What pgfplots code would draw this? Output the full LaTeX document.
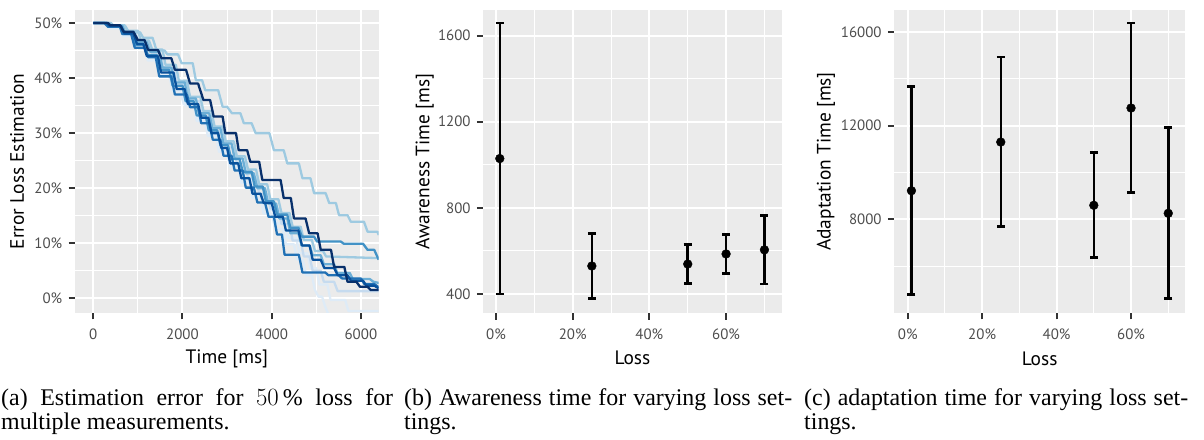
\documentclass[border=0pt]{standalone}
\usepackage{pgfplots}
\pgfplotsset{compat=1.18}
\usepackage{pgfplotstable}
\usepackage{fontspec}
\setmainfont{Liberation Serif}
\newfontfamily\plotfont{PT Sans}
\newfontfamily\capfont{Liberation Serif}
\definecolor{ggbg}{HTML}{EBEBEB}
\definecolor{ggtick}{HTML}{333333}
\definecolor{ggtext}{HTML}{4D4D4D}
\definecolor{b2}{HTML}{DEEBF7}
\definecolor{b3}{HTML}{C6DBEF}
\definecolor{b4}{HTML}{9ECAE1}
\definecolor{b5}{HTML}{6BAED6}
\definecolor{b6}{HTML}{4292C6}
\definecolor{b7}{HTML}{2171B5}
\definecolor{b8}{HTML}{08519C}
\definecolor{b9}{HTML}{08306B}
\newcommand{\labfont}{\plotfont\fontsize{19.5}{22}\selectfont}
\tikzset{ln/.style={line width=2.3bp, line join=round}}
\pgfplotsset{ggstyle/.style={
  scale only axis,
  anchor=south west,
  axis background/.style={fill=ggbg},
  separate axis lines,
  axis line style={draw=none},
  xtick pos=left, ytick pos=left,
  tick align=outside,
  major tick length=6.5bp,
  minor tick length=0pt,
  every tick/.style={ggtick, line width=2bp},
  xmajorgrids, ymajorgrids, xminorgrids, yminorgrids,
  major grid style={white, line width=2bp},
  minor grid style={white, line width=1bp},
  scaled x ticks=false, scaled y ticks=false,
  tick label style={font=\plotfont\fontsize{15}{17}\selectfont, text=ggtext},
  xticklabel style={anchor=north, inner sep=0pt, yshift=-9bp},
  yticklabel style={anchor=east, inner sep=0pt, xshift=-6bp},
}}
\begin{document}
\begin{tikzpicture}
\path[use as bounding box] (0,0) rectangle (1204bp,440bp);
% ---------------- (a)
\begin{axis}[ggstyle, at={(75bp,127bp)}, width=303.7bp, height=303bp,
  xmin=-410, xmax=6400, ymin=-2.67, ymax=52.36,
  xtick={0,2000,4000,6000}, xticklabels={0,2000,4000,6000},
  minor xtick={1000,3000,5000},
  ytick={0,10,20,30,40,50}, yticklabels={0\%,10\%,20\%,30\%,40\%,50\%},
  minor ytick={5,15,25,35,45},
  xlabel={Time [ms]}, ylabel={Error Loss Estimation},
  every axis x label/.style={at={(axis description cs:0.5,-0.1683)}, anchor=base, font=\labfont},
  every axis y label/.style={at={(axis description cs:-0.168,0.5)}, rotate=90, anchor=base, font=\labfont},
]
\addplot[b2, ln] coordinates {(0,50)(280,50)(340,49.2)(600,49.2)(660,47.6)(880,47.6)(950,45.6)(1150,45.6)(1220,43.2)(1400,43.2)(1480,40.5)(1700,40.5)(1780,37.6)(1950,37.6)(2030,35.2)(2250,35.2)(2320,32.2)(2500,32.2)(2570,29.5)(2750,29.5)(2820,26.6)(3000,26.6)(3070,23.8)(3250,23.8)(3320,21.0)(3500,21.0)(3570,18.2)(3750,18.2)(3820,15.4)(4000,15.4)(4080,12.6)(4250,12.6)(4320,9.8)(4500,9.8)(4570,7.0)(4700,7.0)(4770,4.2)(4900,4.2)(4970,1.5)(5050,0.3)(5130,0.3)(5200,-1.5)(5300,-3.5)};
\addplot[b2, ln] coordinates {(0,50)(320,50)(380,49.0)(640,49.0)(700,47.8)(900,47.8)(970,45.9)(1180,45.9)(1250,43.5)(1450,43.5)(1520,40.8)(1720,40.8)(1800,37.9)(2000,37.9)(2070,35.0)(2280,35.0)(2350,32.6)(2550,32.6)(2620,29.9)(2800,29.9)(2870,27.0)(3050,27.0)(3120,24.3)(3300,24.3)(3370,21.5)(3550,21.5)(3620,18.7)(3800,18.7)(3870,16.0)(4050,16.0)(4120,13.6)(4300,13.6)(4370,11.0)(4550,11.0)(4620,8.2)(4800,8.2)(4870,5.5)(5000,5.5)(5070,2.5)(5250,2.5)(5320,-0.3)(5650,-0.3)(5720,-2.3)(6400,-2.3)};
\addplot[b3, ln] coordinates {(0,50)(350,50)(420,49.4)(650,49.4)(720,48.2)(950,48.2)(1020,46.3)(1250,46.3)(1320,44.5)(1500,44.5)(1580,41.8)(1800,41.8)(1880,38.8)(2100,38.8)(2180,35.8)(2400,35.8)(2470,33.0)(2650,33.0)(2720,30.2)(2900,30.2)(2970,27.4)(3150,27.4)(3220,24.6)(3400,24.6)(3470,21.8)(3650,21.8)(3720,19.0)(3900,19.0)(3970,16.3)(4150,16.3)(4220,13.5)(4400,13.5)(4470,10.5)(4650,10.5)(4720,7.6)(4850,7.6)(4920,5.0)(5100,5.0)(5170,3.0)(5400,3.0)(5480,1.3)(6400,1.3)};
\addplot[b4, ln] coordinates {(0,50)(400,50)(460,49.4)(720,49.4)(800,48.3)(1050,48.3)(1120,47.3)(1330,47.3)(1420,45.0)(1600,45.0)(1660,44.3)(1900,44.3)(1980,42.7)(2230,42.7)(2300,39.6)(2440,39.6)(2510,37.8)(2800,37.8)(2900,34.8)(3000,34.8)(3110,33.6)(3300,33.6)(3375,31.8)(3550,31.8)(3640,30.0)(3950,30.0)(4050,26.9)(4270,26.9)(4350,24.5)(4610,24.5)(4690,21.8)(4870,21.8)(4950,19.1)(5210,19.1)(5290,17.3)(5440,17.3)(5510,15.1)(5700,15.1)(5775,13.9)(6070,13.9)(6150,12.1)(6370,12.1)(6400,11.5)};
\addplot[b4, ln] coordinates {(0,50)(380,50)(440,49.6)(700,49.6)(770,48.6)(1000,48.6)(1070,46.8)(1250,46.8)(1320,45.2)(1550,45.2)(1620,42.4)(1850,42.4)(1920,39.5)(2100,39.5)(2170,36.6)(2400,36.6)(2470,34.0)(2650,34.0)(2720,31.2)(2900,31.2)(2970,28.5)(3150,28.5)(3220,25.8)(3400,25.8)(3470,23.4)(3650,23.4)(3720,20.7)(3900,20.7)(3970,18.0)(4150,18.0)(4220,15.5)(4400,15.5)(4470,13.0)(4650,13.0)(4720,10.6)(4900,10.6)(4970,8.6)(5150,8.6)(5220,7.6)(6400,7.3)};
\addplot[b5, ln] coordinates {(0,50)(330,50)(390,49.5)(650,49.5)(720,48.2)(920,48.2)(990,46.5)(1200,46.5)(1270,44.8)(1480,44.8)(1550,41.9)(1750,41.9)(1830,39.2)(2050,39.2)(2120,36.3)(2300,36.3)(2370,33.6)(2600,33.6)(2670,30.9)(2850,30.9)(2920,28.1)(3100,28.1)(3170,25.4)(3350,25.4)(3420,22.7)(3600,22.7)(3680,20.0)(3850,20.0)(3920,17.2)(4100,17.2)(4170,14.5)(4350,14.5)(4420,11.8)(4600,11.8)(4670,9.6)(4850,9.6)(4920,7.8)(5100,7.8)(5170,6.2)(5400,6.2)(5470,4.6)(5750,4.6)(5820,3.5)(6200,3.5)(6280,3.0)(6400,2.8)};
\addplot[b6, ln] coordinates {(0,50)(300,50)(360,49.4)(600,49.4)(670,48.0)(880,48.0)(950,46.0)(1150,46.0)(1220,44.2)(1420,44.2)(1500,41.5)(1700,41.5)(1780,38.6)(2000,38.6)(2070,35.8)(2250,35.8)(2320,33.2)(2520,33.2)(2590,30.5)(2780,30.5)(2850,27.8)(3020,27.8)(3090,25.3)(3280,25.3)(3350,23.0)(3550,23.0)(3620,20.3)(3800,20.3)(3870,17.6)(4050,17.6)(4120,15.2)(4350,15.2)(4420,12.8)(4600,12.8)(4680,11.2)(4950,11.2)(5020,10.3)(5550,10.3)(5620,9.9)(6050,9.9)(6150,8.8)(6300,8.8)(6400,7.0)};
\addplot[b7, ln] coordinates {(0,50)(250,50)(330,49.3)(600,49.3)(650,48.0)(850,48.0)(930,45.5)(1150,45.5)(1230,43.8)(1400,43.8)(1480,40.3)(1750,40.3)(1830,37.0)(2100,37.0)(2170,34.7)(2350,34.7)(2420,31.8)(2600,31.8)(2680,28.8)(2850,28.8)(2920,25.9)(3100,25.9)(3170,23.2)(3350,23.2)(3420,20.1)(3600,20.1)(3680,17.4)(3850,17.4)(3930,14.8)(4050,14.8)(4120,11.6)(4230,11.6)(4290,7.9)(4610,7.9)(4690,4.7)(5200,4.7)(5270,4.2)(5500,4.2)(5580,3.6)(6000,3.6)(6080,2.6)(6300,2.6)(6400,2.0)};
\addplot[b8, ln] coordinates {(0,50)(300,50)(360,49.5)(620,49.5)(700,48.1)(900,48.1)(980,46.2)(1120,46.2)(1200,44.0)(1450,44.0)(1520,41.0)(1800,41.0)(1870,38.0)(2050,38.0)(2120,35.3)(2350,35.3)(2420,32.8)(2580,32.8)(2650,30.0)(2800,30.0)(2870,27.3)(3000,27.3)(3070,24.5)(3250,24.5)(3320,21.8)(3500,21.8)(3570,19.0)(3750,19.0)(3820,17.3)(4000,17.3)(4080,14.8)(4250,14.8)(4320,12.3)(4600,12.3)(4680,9.6)(4850,9.6)(4920,7.0)(5100,7.0)(5180,5.5)(5400,5.5)(5480,4.2)(5700,4.2)(5780,3.2)(6050,3.2)(6120,2.3)(6300,2.3)(6400,1.8)};
\addplot[b9, ln] coordinates {(0,50)(330,50)(380,49.6)(600,49.6)(680,48.4)(900,48.4)(1000,46.9)(1150,46.9)(1230,45.1)(1450,45.1)(1530,43.6)(1750,43.6)(1830,41.5)(2080,41.5)(2170,39.0)(2350,39.0)(2470,36.0)(2620,36.0)(2700,33.0)(2900,33.0)(2960,30.0)(3200,30.0)(3260,26.9)(3450,26.9)(3520,24.8)(3720,24.8)(3790,21.5)(4200,21.5)(4270,18.2)(4430,18.2)(4500,14.5)(4760,14.5)(4840,11.8)(5030,11.8)(5100,8.8)(5330,8.8)(5400,5.7)(5630,5.7)(5700,3.0)(5900,3.0)(5980,2.1)(6150,2.1)(6220,1.5)(6400,1.5)};
\end{axis}
% ---------------- (b)
\begin{axis}[ggstyle, at={(483.3bp,127bp)}, width=298.4bp, height=303bp,
  xmin=-3.3, xmax=74.5, ymin=311.7, ymax=1719,
  xtick={0,20,40,60}, xticklabels={0\%,20\%,40\%,60\%},
  minor xtick={10,30,50,70},
  ytick={400,800,1200,1600}, yticklabels={400,800,1200,1600},
  minor ytick={600,1000,1400},
  xlabel={Loss}, ylabel={Awareness Time [ms]},
  every axis x label/.style={at={(axis description cs:0.5,-0.1716)}, anchor=base, font=\labfont},
  every axis y label/.style={at={(axis description cs:-0.181,0.5)}, rotate=90, anchor=base, font=\labfont},
]
\addplot[black, only marks, mark=*, mark size=4.4bp, mark options={fill=black},
  error bars/.cd, y dir=both, y explicit, error mark=-,
  error bar style={line width=2.5bp, black},
  error mark options={rotate=90, black, mark size=4bp, line width=2.5bp}]
  table[x=x, y=y, y error plus=ep, y error minus=em] {
x y ep em
1 1029 629 630
25 530 150 150
50 539 92 91
60 586 91 90
70 605 159 159
};
\end{axis}
% ---------------- (c)
\begin{axis}[ggstyle, at={(894.3bp,127bp)}, width=290.7bp, height=303bp,
  xmin=-3.6, xmax=74.5, ymin=3998, ymax=16940,
  xtick={0,20,40,60}, xticklabels={0\%,20\%,40\%,60\%},
  minor xtick={10,30,50,70},
  ytick={8000,12000,16000}, yticklabels={8000,12000,16000},
  minor ytick={6000,10000,14000},
  xlabel={Loss}, ylabel={Adaptation Time [ms]},
  every axis x label/.style={at={(axis description cs:0.5,-0.174)}, anchor=base, font=\labfont},
  every axis y label/.style={at={(axis description cs:-0.2188,0.5)}, rotate=90, anchor=base, font=\labfont},
]
\addplot[black, only marks, mark=*, mark size=4.4bp, mark options={fill=black},
  error bars/.cd, y dir=both, y explicit, error mark=-,
  error bar style={line width=2.5bp, black},
  error mark options={rotate=90, black, mark size=4bp, line width=2.5bp}]
  table[x=x, y=y, y error plus=ep, y error minus=em] {
x y ep em
1 9221 4441 4424
25 11300 3625 3616
50 8598 2246 2221
60 12753 3625 3617
70 8256 3655 3629
};
\end{axis}
% ---------------- captions
\begin{scope}[every node/.style={anchor=base west, inner sep=0pt, font=\capfont\fontsize{24}{24.3}\selectfont}]
\node at (1bp,35bp) {\makebox[392bp][s]{(a) Estimation error for $50\,\%$ loss for}};
\node at (1bp,11bp) {multiple measurements.};
\node at (404bp,35bp) {\makebox[388bp][s]{(b) Awareness time for varying loss set-}};
\node at (404bp,11bp) {tings.};
\node at (804bp,35bp) {\makebox[384bp][s]{(c) adaptation time for varying loss set-}};
\node at (804bp,11bp) {tings.};
\end{scope}
\end{tikzpicture}
\end{document}
